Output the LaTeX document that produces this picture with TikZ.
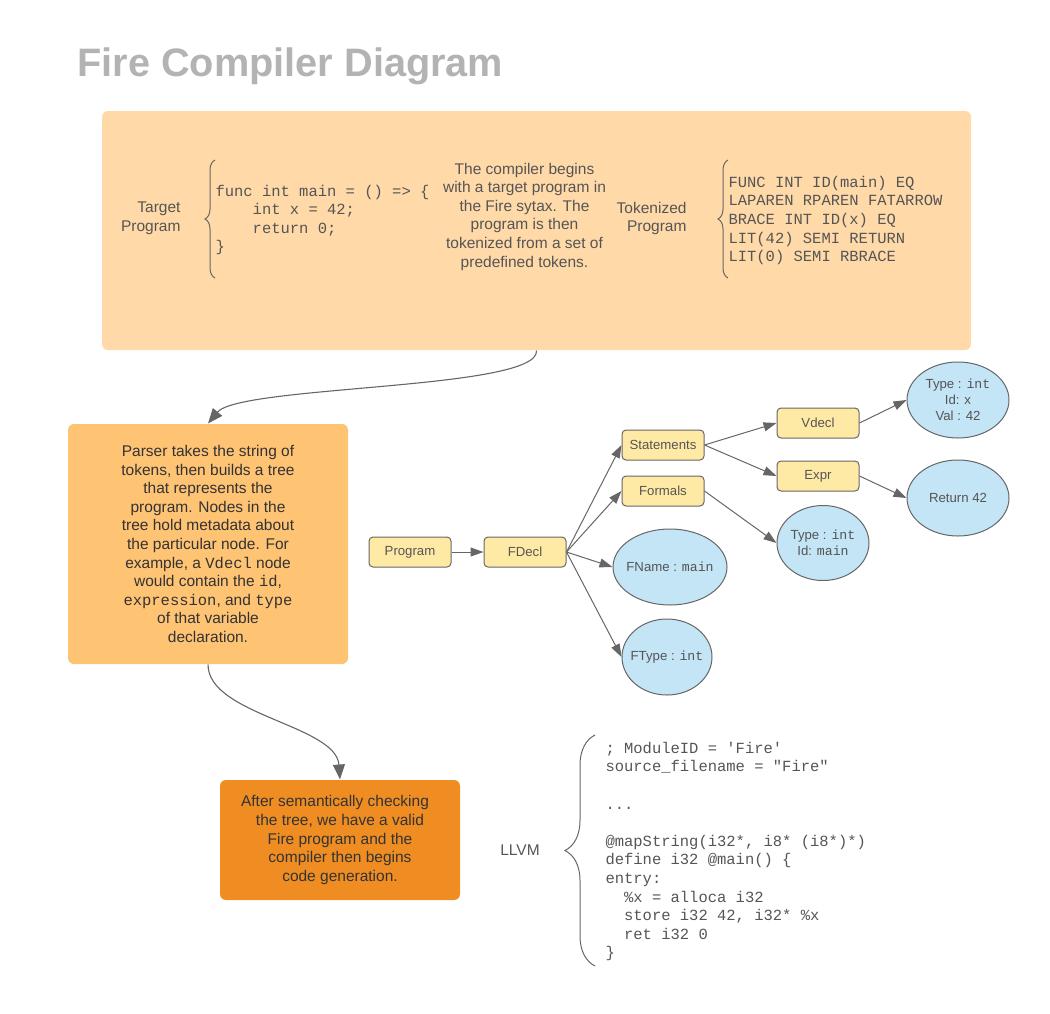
\documentclass[tikz,border=0pt]{standalone}
\usepackage{fontspec}
\setmainfont{Liberation Sans}
\setmonofont{Liberation Mono}
\usetikzlibrary{arrows.meta,shapes.geometric,decorations.pathreplacing}
\definecolor{tokfill}{HTML}{FFDAA8}
\definecolor{parsefill}{HTML}{FFC374}
\definecolor{genfill}{HTML}{EF8D22}
\definecolor{astfill}{HTML}{FFEAA5}
\definecolor{leaffill}{HTML}{C3E5F6}
\definecolor{edge}{HTML}{666666}
\definecolor{ink}{HTML}{555555}
\definecolor{dark}{HTML}{333333}
\definecolor{titlegray}{HTML}{B3B3B3}
\begin{document}
\begin{tikzpicture}[x=1pt, y=-1pt, line width=1pt, >={Triangle[length=13pt,width=9pt]}]
\useasboundingbox (0,0) rectangle (1050,1013);
\tikzstyle{every node} = [inner sep=0pt, text=ink, font=\fontsize{15.5}{18.6}\selectfont]
\tikzstyle{ast} = [draw=edge, fill=astfill, rounded corners=4pt, minimum width=82, minimum height=30, font=\fontsize{13.2}{16}\selectfont]
\tikzstyle{leaf} = [ellipse, draw=edge, fill=leaffill, align=center, inner xsep=-5pt, font=\fontsize{13.2}{16}\selectfont]
\tikzstyle{code} = [anchor=west, align=left, font=\fontsize{15.5}{18.6}\selectfont\ttfamily]
\tikzstyle{curly} = [draw=edge, decorate]
% title
\node[anchor=base west, text=titlegray, font=\fontsize{39.7}{44}\selectfont\bfseries] (title) at (77,76) {Fire Compiler Diagram};
% stage boxes
\node[fill=tokfill, rounded corners=6pt, minimum width=869, minimum height=239] (tok) at (536.5,230.5) {};
\node[fill=parsefill, rounded corners=6pt, minimum width=280, minimum height=240, align=center, text=dark] (parse) at (208,544)
  {Parser takes the string of\\tokens, then builds a tree\\that represents the\\program. Nodes in the\\tree hold metadata about\\the particular node. For\\example, a \texttt{Vdecl} node\\would contain the \texttt{id},\\\texttt{expression}, and \texttt{type}\\of that variable\\declaration.};
\node[fill=genfill, rounded corners=6pt, minimum width=240, minimum height=120, align=center, text=dark] (gen) at (340,840)
  {After semantically checking\hspace*{10pt}\\the tree, we have a valid\\Fire program and the\\compiler then begins\\code generation.};
% lexing
\node[anchor=east, align=right] (tlabel) at (181,218.5) {Target\\Program};
\draw[curly, decoration={brace, amplitude=10pt}] (215,278) -- (215,160);
\node[code] (src) at (215,220) {func int main = () => \{\\\hspace*{2.4em}int x = 42;\\\hspace*{2.4em}return 0;\\\}};
\node[align=center] (desc) at (524.5,216.5) {The compiler begins\\with a target program in\\the Fire sytax. The\\program is then\\tokenized from a set of\\predefined tokens.};
\node[anchor=east, align=right] (klabel) at (687,218.5) {Tokenized\\Program};
\draw[curly, decoration={brace, amplitude=10pt}] (728,278) -- (728,160);
\node[code] (toks) at (728,220.5) {FUNC INT ID(main) EQ\\LAPAREN RPAREN FATARROW\\BRACE INT ID(x) EQ\\LIT(42) SEMI RETURN\\LIT(0) SEMI RBRACE};
\draw[->, draw=edge, line width=1.1pt, >={Triangle[length=15pt,width=12pt]}] (tok.south) .. controls (540,390) and (240,385) .. (parse.north);
\draw[->, draw=edge, line width=1.1pt, >={Triangle[length=15pt,width=12pt]}] (parse.south) .. controls (208,715) and (336,725) .. (gen.north);
% syntax tree
\node[ast] (prog) at (410,552) {Program};
\node[ast] (fdecl) at (525,552) {FDecl};
\node[ast] (stmts) at (663,445) {Statements};
\node[ast] (formals) at (663,491) {Formals};
\node[ast] (vdecl) at (818,423) {Vdecl};
\node[ast] (expr) at (818,476) {Expr};
\node[leaf, minimum width=114, minimum height=76] (fname) at (670,567) {FName : \texttt{main}};
\node[leaf, minimum width=90, minimum height=76] (ftype) at (667,657) {FType : \texttt{int}};
\node[leaf, minimum width=92, minimum height=75] (formal) at (823,543) {Type : \texttt{int}\\Id: \texttt{main}};
\node[leaf, minimum width=102, minimum height=76] (vinfo) at (958,400) {Type : \texttt{int}\\Id: x\\Val : 42};
\node[leaf, minimum width=102, minimum height=76] (ret) at (958,498) {Return 42};
\draw[->, draw=edge] (prog) -- (fdecl);
\draw[->, draw=edge] (fdecl.east) -- (stmts.west);
\draw[->, draw=edge] (fdecl.east) -- (formals.west);
\draw[->, draw=edge] (fdecl.east) -- (fname.west);
\draw[->, draw=edge] (fdecl.east) -- (ftype.west);
\draw[->, draw=edge] (stmts.east) -- (vdecl.west);
\draw[->, draw=edge] (stmts.east) -- (expr.west);
\draw[->, draw=edge] (formals.east) -- (formal.west);
\draw[->, draw=edge] (vdecl.east) -- (vinfo.west);
\draw[->, draw=edge] (expr.east) -- (ret.west);
% code generation
\node (llvm) at (520,850) {LLVM};
\draw[curly, decoration={brace, amplitude=30pt}] (595,966) -- (595,735);
\node[code] (ir) at (605,851.5) {; ModuleID = 'Fire'\\source\_filename = "Fire"\\\mbox{}\\...\\\mbox{}\\@mapString(i32*, i8* (i8*)*)\\define i32 @main() \{\\entry:\\\hspace*{1.2em}\%x = alloca i32\\\hspace*{1.2em}store i32 42, i32* \%x\\\hspace*{1.2em}ret i32 0\\\}};
\end{tikzpicture}
\end{document}
